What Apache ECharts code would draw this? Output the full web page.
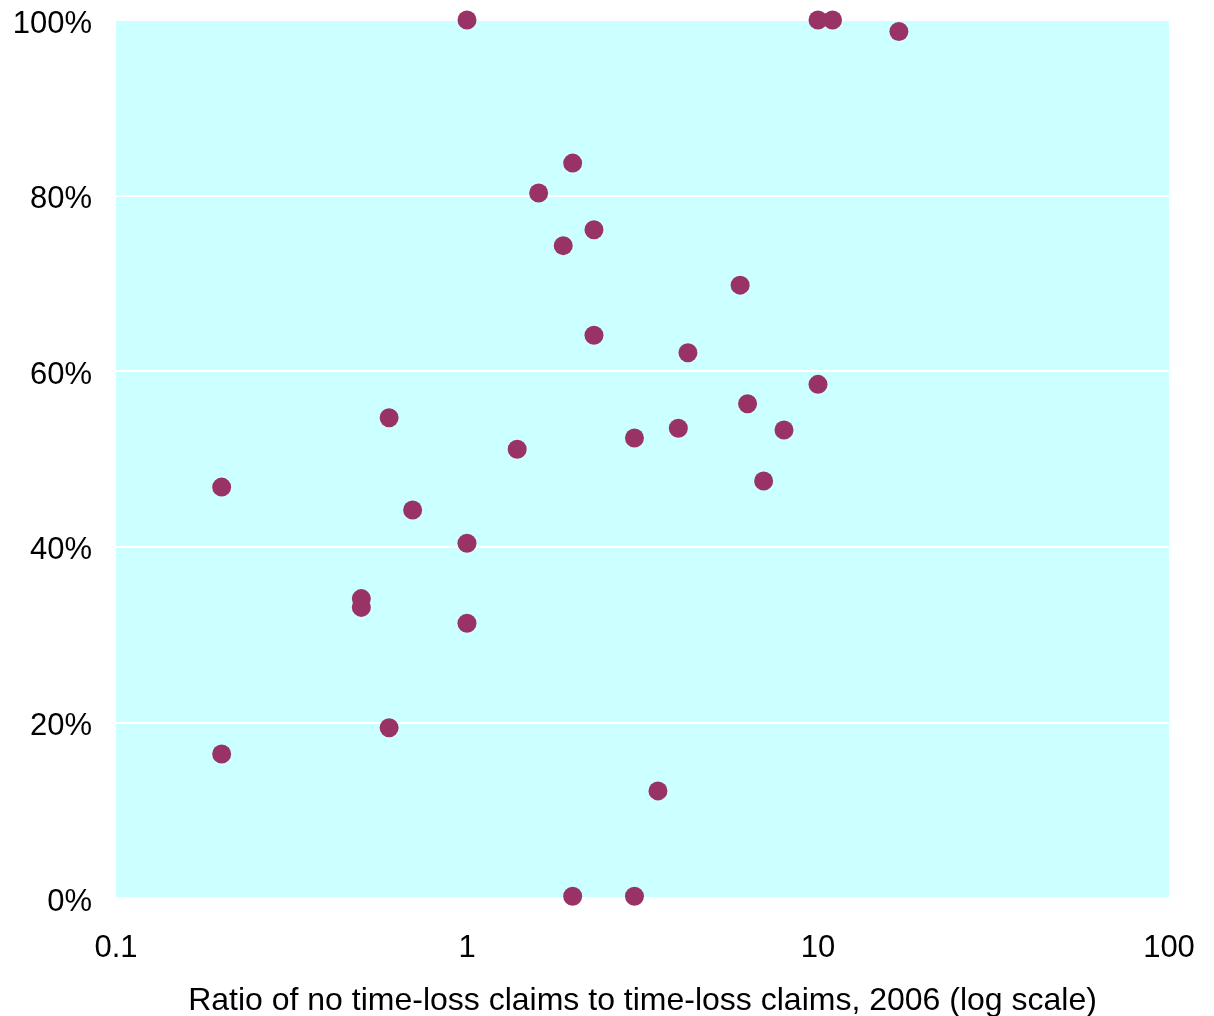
<!DOCTYPE html>
<html>
<head>
<meta charset="utf-8">
<script src="https://cdn.jsdelivr.net/npm/echarts@6/dist/echarts.min.js"></script>
<style>
  html, body { margin: 0; padding: 0; background: #fff; }
  #chart { width: 1214px; height: 1016px; }
</style>
</head>
<body>
<div id="chart"></div>
<script>
// ratio of no time-loss claims to time-loss claims (x, log) and share (y, %)
const ratios = [1, 10, 11, 17, 2, 1.6, 2.3, 1.88, 6, 2.3, 4.26, 10, 0.6, 6.3, 1.39, 3, 4, 8, 7, 0.2, 0.7, 1, 0.5, 0.5, 1, 0.6, 0.2, 3.5, 2, 3];
const shares = [100, 100, 100, 98.7, 83.7, 80.3, 76.1, 74.3, 69.8, 64.1, 62.1, 58.5, 54.7, 56.3, 51.1, 52.4, 53.5, 53.3, 47.5, 46.8, 44.2, 40.4, 34.1, 33.1, 31.3, 19.4, 16.4, 12.2, 0.2, 0.2];
const yTicks = [0, 20, 40, 60, 80, 100];

const chart = echarts.init(document.getElementById('chart'));

const points = ratios.map((r, i) => [r, shares[i]]);
const font = 'Liberation Sans, Arial, sans-serif';

chart.setOption({
    animation: false,
    grid: {
        left: 116, right: 45, top: 20, bottom: 118,
        outerBoundsMode: 'none',
        containLabel: false,
        show: true, backgroundColor: '#CCFFFF', borderWidth: 0
    },
    xAxis: {
        type: 'log',
        logBase: 10,
        min: 0.1,
        max: 100,
        axisLine: { show: false },
        axisTick: { show: false },
        splitLine: { show: false },
        axisLabel: {
            margin: 35,
            color: '#000',
            fontSize: 31,
            fontFamily: font,
            formatter: v => String(+v.toPrecision(3))
        },
        name: 'Ratio of no time-loss claims to time-loss claims, 2006 (log scale)',
        nameLocation: 'middle',
        nameGap: 87,
        nameTextStyle: {
            color: '#000',
            fontSize: 32,
            fontFamily: font
        }
    },
    yAxis: {
        type: 'value',
        min: yTicks[0],
        max: yTicks[yTicks.length - 1],
        interval: 20,
        axisLine: { show: false },
        axisTick: { show: false },
        splitLine: { lineStyle: { color: '#ffffff', width: 2 } },
        axisLabel: {
            margin: 24,
            color: '#000',
            fontSize: 31,
            fontFamily: font,
            verticalAlign: 'top',
            lineHeight: 8,
            formatter: '{value}%'
        }
    },
    series: [{
        type: 'scatter',
        data: points,
        symbol: 'circle',
        symbolSize: 19,
        clip: false,
        itemStyle: { color: '#993366', opacity: 1 }
    }]
});
</script>
</body>
</html>
